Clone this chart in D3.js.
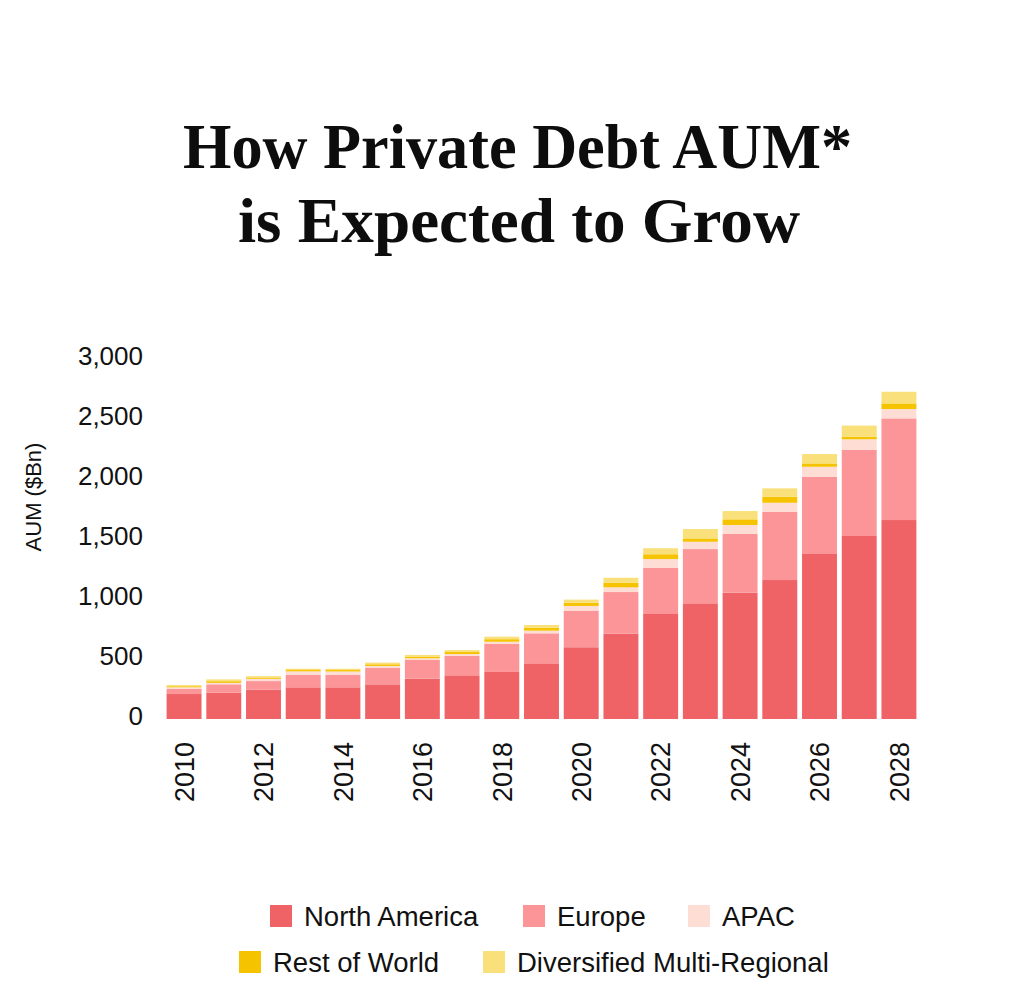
<!DOCTYPE html>
<html>
<head>
<meta charset="utf-8">
<script src="https://cdn.jsdelivr.net/npm/d3@7"></script>
<style>
  body { margin: 0; background: #fff; }
  svg { display: block; }
</style>
</head>
<body>
<div id="chart"></div>
<script>
// values, $Bn
let years = [2010, 2011, 2012, 2013, 2014, 2015, 2016, 2017, 2018, 2019,
             2020, 2021, 2022, 2023, 2024, 2025, 2026, 2027, 2028]
let northAmerica = [208, 219, 244, 264, 264, 289, 336, 364, 392, 464, 598, 712, 875, 964, 1053, 1158, 1375, 1525, 1658]
let europe       = [44, 70, 72, 105, 105, 136, 156, 163, 233, 250, 305, 346, 386, 452, 489, 569, 644, 717, 847]
let apac         = [12, 12, 19, 28, 27, 17, 14, 14, 19, 22, 39, 39, 72, 61, 75, 75, 83, 89, 78]
let restOfWorld  = [9, 14, 11, 11, 12, 14, 14, 17, 21, 24, 26, 38, 40, 28, 47, 50, 28, 22, 47]
let diversified  = [10, 15, 11, 11, 11, 14, 14, 16, 21, 23, 27, 42, 50, 78, 69, 70, 78, 92, 97]
let yTicks = [0, 500, 1000, 1500, 2000, 2500, 3000]
let xTickYears = [2010, 2012, 2014, 2016, 2018, 2020, 2022, 2024, 2026, 2028]

let seriesNames = ["North America", "Europe", "APAC", "Rest of World", "Diversified Multi-Regional"]
let seriesValues = [northAmerica, europe, apac, restOfWorld, diversified]
let colors = ["#EF6366", "#FB9598", "#FDDDD4", "#F6C300", "#F9E07A"]

let data = years.map(function(y, i) {
  let row = {Year: y}
  seriesNames.forEach(function(k, j) { row[k] = seriesValues[j][i] })
  return row
})

let svg = d3.select("#chart").append("svg")
  .attr("width", 1024)
  .attr("height", 1000)

// title
let title = svg.append("g")
  .style("font-family", "'Liberation Serif', 'Times New Roman', serif")
  .style("font-weight", "bold")
  .style("font-size", "64px")
  .attr("fill", "#0d0d0d")
title.append("text")
  .attr("x", 183).attr("y", 168)
  .attr("textLength", 669).attr("lengthAdjust", "spacingAndGlyphs")
  .text("How Private Debt AUM*")
title.append("text")
  .attr("x", 238).attr("y", 242)
  .attr("textLength", 562).attr("lengthAdjust", "spacingAndGlyphs")
  .text("is Expected to Grow")

let x = d3.scaleBand()
  .domain(years)
  .range([165, 918])
  .paddingInner(0.12)
  .paddingOuter(0.04)

let y = d3.scaleLinear()
  .domain([0, 3000])
  .range([719, 359])

let color = d3.scaleOrdinal()
  .domain(seriesNames)
  .range(colors)

let stackedData = d3.stack().keys(seriesNames)(data)

svg.append("g")
  .selectAll("g")
  .data(stackedData)
  .enter().append("g")
    .attr("fill", function(d) { return color(d.key) })
    .selectAll("rect")
    .data(function(d) { return d })
    .enter().append("rect")
      .attr("x", function(d) { return x(d.data.Year) })
      .attr("y", function(d) { return y(d[1]) })
      .attr("height", function(d) { return y(d[0]) - y(d[1]) })
      .attr("width", x.bandwidth())

// y axis, labels only
let yAxis = svg.append("g")
  .attr("transform", "translate(147,-3)")
  .call(d3.axisLeft(y).tickValues(yTicks).tickSize(0).tickPadding(4).tickFormat(d3.format(",")))
yAxis.select(".domain").remove()
yAxis.selectAll("text")
  .style("font-family", "'Liberation Sans', Arial, sans-serif")
  .style("font-size", "26px")
  .attr("fill", "#111")

svg.append("text")
  .attr("transform", "translate(33,497) rotate(-90)")
  .attr("text-anchor", "middle")
  .attr("dy", "0.35em")
  .style("font-family", "'Liberation Sans', Arial, sans-serif")
  .style("font-size", "22px")
  .attr("fill", "#111")
  .text("AUM ($Bn)")

// x axis, rotated year labels
let xAxis = svg.append("g")
  .attr("transform", "translate(0,736)")
  .call(d3.axisBottom(x).tickValues(xTickYears).tickSize(0).tickPadding(0))
xAxis.select(".domain").remove()
xAxis.selectAll("text")
  .attr("transform", "rotate(-90)")
  .attr("text-anchor", "end")
  .attr("x", -6)
  .attr("y", 0)
  .attr("dy", "0.36em")
  .style("font-family", "'Liberation Sans', Arial, sans-serif")
  .style("font-size", "27px")
  .attr("fill", "#111")

// legend, two rows
let legendPos = [[270, 905], [523, 905], [688, 905], [239, 951], [483, 951]]
let legend = svg.selectAll(".legend")
  .data(seriesNames)
  .enter().append("g")
    .attr("class", "legend")
    .attr("transform", function(d, i) { return "translate(" + legendPos[i][0] + "," + legendPos[i][1] + ")" })

legend.append("rect")
  .attr("width", 22)
  .attr("height", 22)
  .attr("fill", function(d) { return color(d) })

legend.append("text")
  .attr("x", 34)
  .attr("y", 11)
  .attr("dy", "0.35em")
  .style("font-family", "'Liberation Sans', Arial, sans-serif")
  .style("font-size", "27.5px")
  .attr("fill", "#111")
  .text(function(d) { return d })
</script>
</body>
</html>
